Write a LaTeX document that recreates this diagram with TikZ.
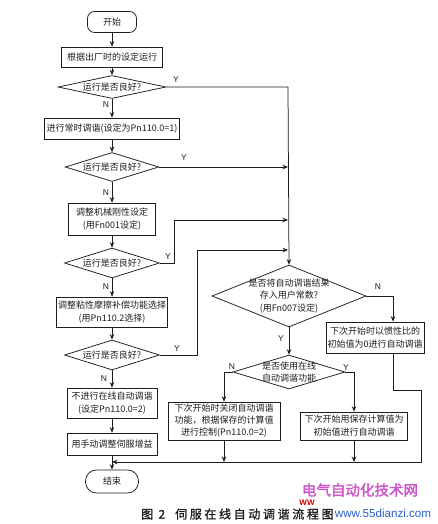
\documentclass[tikz,border=0pt]{standalone}
\usepackage{fontspec}
\setmainfont{Noto Sans CJK SC}
\newfontfamily\latinsans{Liberation Sans}
\newfontfamily\capfont[FakeBold=1.2,LetterSpace=22]{Noto Sans CJK SC}
\newfontfamily\wmfont[FakeBold=2]{Noto Sans CJK SC}
\usetikzlibrary{shapes.geometric,arrows.meta}
\definecolor{wmpink}{RGB}{205,85,200}
\definecolor{wmblue}{RGB}{40,95,200}
\definecolor{ink}{RGB}{30,30,30}
\tikzset{
  line/.style={line width=0.75pt, draw=ink},
  arr/.style={line, -{Stealth[length=5.5pt,width=4.5pt]}},
  box/.style={draw=ink, line width=0.75pt, rectangle, inner sep=0pt, align=center,
              font=\fontsize{9}{13}\selectfont, text=ink},
  term/.style={box, rounded corners=7pt},
  dec/.style={draw=ink, line width=0.75pt, shape=diamond, inner sep=0pt, aspect=4.2,
              align=center, font=\fontsize{9}{12.5}\selectfont, text=ink},
  lbl/.style={font=\latinsans\fontsize{8.5}{9}\selectfont, inner sep=0pt, text=ink},
}
\begin{document}
\begin{tikzpicture}[x=1pt,y=-1pt]
\useasboundingbox[fill=white] (0,0) rectangle (437,524);

% left column
\node[term, minimum width=49pt, minimum height=21pt] (start) at (112,22) {开始};
\node[box, minimum width=101pt, minimum height=20pt] (b1) at (112,57) {根据出厂时的设定运行};
\node[dec, minimum width=108pt, minimum height=23pt] (d1) at (112,87) {运行是否良好?};
\node[box, minimum width=135pt, minimum height=21pt] (b2) at (112,128.5) {进行常时调谐(设定为Pn110.0=1)};
\node[dec, minimum width=93pt, minimum height=29pt] (d2) at (112,167) {运行是否良好?};
\node[box, minimum width=87pt, minimum height=32pt] (b3) at (112,219) {调整机械刚性设定\\(用Fn001设定)};
\node[dec, minimum width=95pt, minimum height=30pt] (d3) at (112,263) {运行是否良好?};
\node[box, minimum width=111pt, minimum height=30pt] (b4) at (112,312) {调整粘性摩擦补偿功能选择\\(用Pn110.2选择)};
\node[dec, minimum width=95pt, minimum height=30pt] (d4) at (112,355) {运行是否良好?};
\node[box, minimum width=90pt, minimum height=30pt] (b5) at (112,403) {不进行在线自动调谐\\(设定Pn110.0=2)};
\node[box, minimum width=90pt, minimum height=22pt] (b6) at (112,444) {用手动调整伺服增益};
\node[term, rounded corners=11pt, minimum width=53pt, minimum height=23pt] (stop) at (112,481.5) {结束};
\coordinate (j) at (112,462);

% right column
\node[dec, inner sep=-2pt, aspect=2.5, minimum width=154pt, minimum height=62pt] (d5) at (289,296)
  {是否将自动调谐结果\\存入用户常数?\\(用Fn007设定)};
\node[box, minimum width=98pt, minimum height=31pt] (b7) at (375,337.5) {下次开始时以惯性比的\\初始值为0进行自动调谐};
\node[dec, inner sep=-3pt, aspect=3.3, minimum width=112pt, minimum height=34pt] (d6) at (289,372)
  {是否使用在线\\自动调谐功能};
\node[box, minimum width=112pt, minimum height=38pt, font=\fontsize{9}{12}\selectfont] (b8) at (224,421)
  {下次开始时关闭自动调谐\\功能，根据保存的计算值\\进行控制(Pn110.0=2)};
\node[box, minimum width=107pt, minimum height=28pt] (b9) at (354,426) {下次开始用保存计算值为\\初始值进行自动调谐};

% coordinates
\coordinate (r1) at (288,87);
\coordinate (r2) at (288,167);
\coordinate (r3) at (288,220);
\coordinate (r4) at (288,250);
\coordinate (c3) at (174,263);
\coordinate (c4) at (197,355);
\coordinate (k1) at (393,296);
\coordinate (k2) at (393,390);
\coordinate (k3) at (421,390);
\coordinate (k4) at (421,462);

% main flow
\draw[arr] (start) -- (b1);
\draw[arr] (b1) -- (d1);
\draw[arr] (d1) -- (b2);
\draw[arr] (b2) -- (d2);
\draw[arr] (d2) -- (b3);
\draw[arr] (b3) -- (d3);
\draw[arr] (d3) -- (b4);
\draw[arr] (b4) -- (d4);
\draw[arr] (d4) -- (b5);
\draw[arr] (b5) -- (b6);
\draw[arr] (b6) -- (stop);

% Y branches
\draw[arr] (d1.east) -- (r1) -- (d5.north);
\draw[arr] (d2.east) -- (r2);
\draw[arr] (d3.east) -- (c3) |- (r3);
\draw[arr] (d4.east) -- (c4) |- (r4);

% right part
\draw[arr] (d5.east) -- (k1) -- (k1 |- b7.north);
\draw[arr] (k1 |- b7.south) -- (k2) -- (k3) -- (k4) -- (j);
\draw[arr] (d5.south) -- (d6.north);
\draw[arr] (d6.west) -| (b8.north);
\draw[arr] (d6.east) -| (b9.north);
\draw[arr] (b8.south) -- (b8.south |- j);
\draw[arr] (b9.south) -- (b9.south |- j);

% labels
\node[lbl] (y1) at (176,80) {Y};
\node[lbl] (y2) at (184,158) {Y};
\node[lbl] (y3) at (168,257) {Y};
\node[lbl] (y4) at (177,349) {Y};
\node[lbl] (n1) at (106,105) {N};
\node[lbl] (n2) at (106,193) {N};
\node[lbl] (n3) at (106,287) {N};
\node[lbl] (n4) at (104,379) {N};
\node[lbl] (n5) at (378,287) {N};
\node[lbl] (y5) at (281,339) {Y};
\node[lbl] (n6) at (232,367) {N};
\node[lbl] (y6) at (346,368) {Y};

% caption and watermark
\node[anchor=west, inner sep=0pt, font=\capfont\fontsize{12}{12}\selectfont, text=ink] (cap) at (141,514)
  {图 2\hspace{10pt}伺服在线自动调谐流程图};
\node[inner sep=0pt, font=\wmfont\fontsize{14.5}{15}\selectfont, text=wmpink] (wm1) at (360,490) {电气自动化技术网};
\node[inner sep=0pt, font=\latinsans\bfseries\fontsize{8}{8}\selectfont, text=red!80!black] (wm2) at (307,502.5) {WW};
\node[inner sep=0pt, font=\latinsans\fontsize{11.6}{12}\selectfont, text=wmblue] (wm3) at (383,513) {www.55dianzi.com};
\end{tikzpicture}
\end{document}
